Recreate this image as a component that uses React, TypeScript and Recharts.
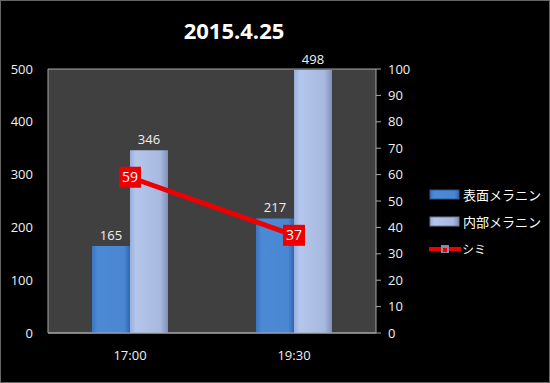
import React from 'react';
import { ComposedChart, Bar, Line, XAxis, YAxis, CartesianGrid, LabelList } from 'recharts';

const categories = ['17:00', '19:30'];
const surfaceMelanin = [165, 217];
const innerMelanin = [346, 498];
const spots = [59, 37];
const leftTicks = [0, 100, 200, 300, 400, 500];
const rightTicks = [0, 10, 20, 30, 40, 50, 60, 70, 80, 90, 100];
const seriesNames = ['表面メラニン', '内部メラニン', 'シミ'];
const title = '2015.4.25';

const data = categories.map((c, i) => ({
  name: c,
  s1: surfaceMelanin[i],
  s2: innerMelanin[i],
  s3: spots[i],
}));

const FONT = '"Open Sans", "Noto Sans CJK JP", sans-serif';

const SpotLabel = (props: any) => {
  const { x, y, value } = props;
  if (x == null || y == null) return null;
  return (
    <g>
      <rect x={x - 11} y={y - 10.5} width={22} height={21} fill="#ee0000" />
      <text x={x} y={y + 5} textAnchor="middle" fill="#ffffff" fontSize={14} fontFamily={FONT}>
        {value}
      </text>
    </g>
  );
};

const LegendContent = () => (
  <div style={{ fontFamily: '"Noto Sans CJK JP", sans-serif', fontSize: 13, color: '#ffffff', lineHeight: '16px' }}>
    <div style={{ display: 'flex', alignItems: 'center', height: 27 }}>
      <svg width={32} height={12} style={{ marginRight: 2 }}>
        <rect x={1} y={1} width={29} height={9} fill="url(#gBlue)" stroke="#2a5a98" strokeWidth={1} />
      </svg>
      <span>{seriesNames[0]}</span>
    </div>
    <div style={{ display: 'flex', alignItems: 'center', height: 27 }}>
      <svg width={32} height={12} style={{ marginRight: 2 }}>
        <rect x={1} y={1} width={29} height={9} fill="url(#gWhite)" stroke="#707888" strokeWidth={1} />
      </svg>
      <span>{seriesNames[1]}</span>
    </div>
    <div style={{ display: 'flex', alignItems: 'center', height: 27 }}>
      <svg width={32} height={12} style={{ marginRight: 1 }}>
        <line x1={0} y1={6} x2={32} y2={6} stroke="#ee0000" strokeWidth={4} />
        <rect x={12} y={2} width={8} height={8} fill="#8888a8" />
        <rect x={14} y={5} width={4} height={4} fill="#ee0000" />
      </svg>
      <span style={{ fontSize: 12 }}>{seriesNames[2]}</span>
    </div>
  </div>
);

export default function App() {
  return (
    <div
      style={{
        position: 'absolute',
        left: 0,
        top: 0,
        width: 550,
        height: 383,
        background: '#000000',
        boxSizing: 'border-box',
        border: '1px solid #666',
        overflow: 'hidden',
      }}
    >
      <div
        style={{
          position: 'absolute',
          left: 133,
          width: 200,
          top: 14,
          textAlign: 'center',
          color: '#ffffff',
          fontFamily: FONT,
          fontWeight: 'bold',
          fontSize: 22,
        }}
      >
        {title}
      </div>
      <div style={{ position: 'absolute', left: -1, top: -1 }}>
        <ComposedChart
          width={550}
          height={383}
          data={data}
          margin={{ top: 69, right: 134, bottom: 20, left: 0 }}
          barGap={0}
          barSize={38}
        >
          <defs>
            <linearGradient id="gBlue" x1="0" y1="0" x2="1" y2="0">
              <stop offset="0%" stopColor="#3a74c2" />
              <stop offset="15%" stopColor="#4d8ad6" />
              <stop offset="85%" stopColor="#4a86d2" />
              <stop offset="100%" stopColor="#3266ae" />
            </linearGradient>
            <linearGradient id="gWhite" x1="0" y1="0" x2="1" y2="0">
              <stop offset="0%" stopColor="#9aaedb" />
              <stop offset="15%" stopColor="#b4c6ec" />
              <stop offset="80%" stopColor="#a8b9e0" />
              <stop offset="100%" stopColor="#8090b8" />
            </linearGradient>
          </defs>
          <CartesianGrid vertical={false} stroke="#a8a8a8" fill="#404040" strokeWidth={1} />
          <XAxis
            dataKey="name"
            axisLine={{ stroke: '#a8a8a8' }}
            tickLine={false}
            tick={{ fill: '#f0f0f0', fontSize: 13, fontFamily: FONT }}
            tickMargin={12}
            height={30}
          />
          <YAxis
            yAxisId="left"
            orientation="left"
            domain={[0, 500]}
            ticks={leftTicks}
            width={48}
            axisLine={{ stroke: '#a8a8a8' }}
            tickLine={false}
            tickMargin={9}
            tick={{ fill: '#f0f0f0', fontSize: 13, fontFamily: FONT }}
          />
          <YAxis
            yAxisId="right"
            orientation="right"
            domain={[0, 100]}
            ticks={rightTicks}
            width={40}
            axisLine={{ stroke: '#a8a8a8' }}
            tickLine={{ stroke: '#a8a8a8' }}
            tickSize={5}
            tickMargin={7}
            tick={{ fill: '#f0f0f0', fontSize: 13, fontFamily: FONT }}
          />
          <Bar yAxisId="left" dataKey="s1" name={seriesNames[0]} fill="url(#gBlue)" isAnimationActive={false}>
            <LabelList dataKey="s1" position="top" offset={6} fill="#f0f0f0" fontSize={13} fontFamily={FONT} />
          </Bar>
          <Bar yAxisId="left" dataKey="s2" name={seriesNames[1]} fill="url(#gWhite)" isAnimationActive={false}>
            <LabelList dataKey="s2" position="top" offset={6} fill="#f0f0f0" fontSize={13} fontFamily={FONT} />
          </Bar>
          <Line
            yAxisId="right"
            dataKey="s3"
            name={seriesNames[2]}
            stroke="#ee0000"
            strokeWidth={5}
            dot={false}
            activeDot={false}
            isAnimationActive={false}
            label={<SpotLabel />}
          />
        </ComposedChart>
      </div>
      <div style={{ position: 'absolute', left: 428, top: 180, width: 122 }}>
        <LegendContent />
      </div>
    </div>
  );
}
